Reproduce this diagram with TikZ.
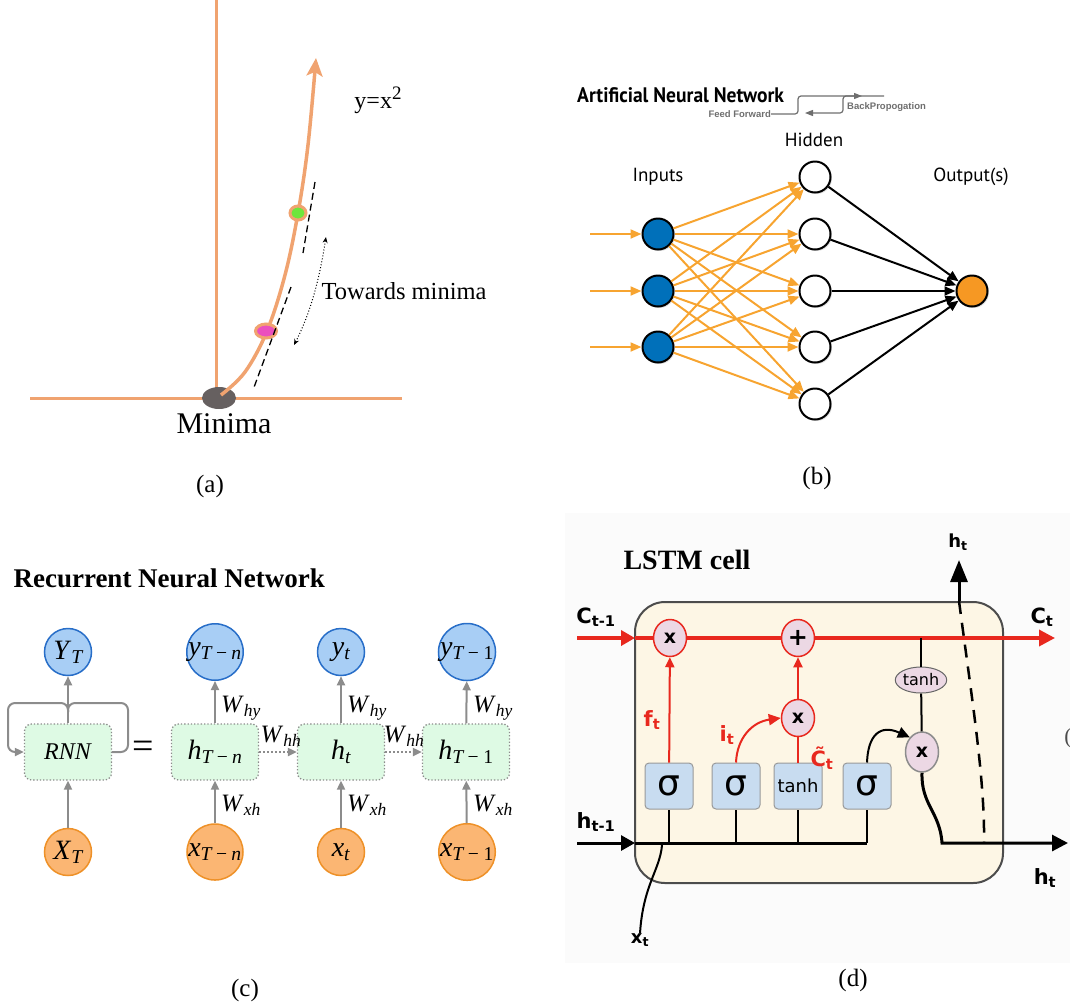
\documentclass[tikz,border=0pt]{standalone}
\usepackage{fontspec}
\setmainfont{Liberation Serif}
\newfontfamily\ptsans{PT Sans}
\newfontfamily\arial{Liberation Sans}
\newfontfamily\dejavu{DejaVu Sans}
\usetikzlibrary{arrows.meta,positioning,shapes.geometric,shadows}
\newcommand{\fsz}[1]{\fontsize{#1}{#1}\selectfont}
\newcommand{\isub}[2]{\textit{#1}\textsubscript{\itshape #2}}

\definecolor{axisorange}{RGB}{240,163,112}
\definecolor{minimagray}{RGB}{102,96,96}
\definecolor{dotgreen}{RGB}{110,230,60}
\definecolor{dotpink}{RGB}{235,80,190}
\definecolor{annblue}{RGB}{0,112,186}
\definecolor{annorange}{RGB}{246,152,35}
\definecolor{edgeorange}{RGB}{247,164,48}
\definecolor{fbgray}{RGB}{110,110,110}
\definecolor{yblue}{RGB}{168,206,245}
\definecolor{yborder}{RGB}{40,110,200}
\definecolor{xorange}{RGB}{251,182,115}
\definecolor{xborder}{RGB}{238,145,40}
\definecolor{boxgreen}{RGB}{222,250,228}
\definecolor{arrowgray}{RGB}{140,140,140}
\definecolor{cellred}{RGB}{232,40,30}
\definecolor{cellcream}{RGB}{253,246,229}
\definecolor{opfill}{RGB}{236,216,228}
\definecolor{gatefill}{RGB}{200,220,240}
\definecolor{panelbg}{RGB}{251,251,251}

\tikzset{
  axis/.style={draw=axisorange, line width=3},
  neuron/.style={circle, draw=black, line width=2, minimum size=31, inner sep=0,
    drop shadow={shadow xshift=1.5pt, shadow yshift=-1.5pt, opacity=0.25}},
  ffarrow/.style={draw=edgeorange, line width=2, -{Triangle[length=11pt,width=9pt]}},
  outarrow/.style={draw=black, line width=2, -{Triangle[length=11pt,width=9pt]}},
  fbarrow/.style={draw=fbgray, line width=1.2, rounded corners=3, -{Triangle[length=8pt,width=6pt]}},
  ycirc/.style={circle, fill=yblue, draw=yborder, line width=1.5, minimum size=47, inner sep=0, font=\fsz{28}},
  xcirc/.style={circle, fill=xorange, draw=xborder, line width=1.5, minimum size=47, inner sep=0, font=\fsz{28}},
  hbox/.style={rectangle, rounded corners=7, fill=boxgreen, draw=arrowgray, dotted, line width=1.3,
    minimum width=87, minimum height=56, font=\fsz{28}},
  grayarrow/.style={draw=arrowgray, line width=2, -{Triangle[length=9pt,width=8pt]}},
  wlbl/.style={font=\fsz{25}, inner sep=1},
  redline/.style={draw=cellred, line width=3.5},
  redthin/.style={draw=cellred, line width=2},
  blackline/.style={draw=black, line width=3},
  blackthin/.style={draw=black, line width=2},
  opnode/.style={ellipse, fill=opfill, draw=cellred, line width=1.5, minimum width=33,
    minimum height=37, inner sep=0, font=\dejavu\bfseries\fsz{19}},
  gate/.style={rectangle, rounded corners=4, fill=gatefill, draw=black!40, line width=1,
    minimum width=48, minimum height=46, inner sep=0},
  lstmlbl/.style={font=\dejavu\bfseries\fsz{21}, inner sep=0}
}

\begin{document}
\begin{tikzpicture}[x=1pt, y=-1pt]
\useasboundingbox (0,0) rectangle (1070,1005);

% (a) gradient descent
\draw[axis] (216,0) -- (216,398);
\draw[axis] (30,398) -- (402,398);
\node[ellipse, fill=minimagray, minimum width=34, minimum height=22, inner sep=0] (minpt) at (219,398) {};
\draw[axis, line width=3.5, -{Stealth[length=18pt,width=16pt,inset=4pt]}]
  plot[smooth, tension=0.6] coordinates {(221,395) (245,372) (267,331) (285,275) (298,213) (308,145) (316,58)};
\node[ellipse, draw=axisorange, line width=3, fill=dotgreen, minimum width=16, minimum height=14, inner sep=0] (gdot) at (298,213) {};
\node[ellipse, draw=axisorange, line width=3, fill=dotpink, minimum width=21, minimum height=14, inner sep=0] (pdot) at (266,331) {};
\draw[line width=1.3, dash pattern=on 7pt off 4pt] (315,182) -- (303,253);
\draw[line width=1.3, dash pattern=on 7pt off 4pt] (291,287) -- (253,390);
\coordinate (twtop) at (326,237);
\coordinate (twbot) at (294,345);
\draw[line width=1, dotted, {Stealth[length=6pt,width=5pt]}-{Stealth[length=6pt,width=5pt]}]
  (twtop) .. controls (320,275) and (312,310) .. (twbot);
\node[font=\fsz{30}] (minlbl) at (224,424) {Minima};
\node[font=\fsz{24}] (parab) at (378,100) {y=x\raisebox{9pt}{\fsz{19}2}};
\node[font=\fsz{24.5}, anchor=west] (twlbl) at (318,291) {Towards minima};
\node[font=\fsz{25}] (capa) at (210,486) {(a)};

% (b) artificial neural network
\node[font=\ptsans\bfseries\fsz{21}, anchor=west, inner sep=0] (anntitle) at (577,95) {\scalebox{0.93}[1]{Artificial Neural Network}};
\node[font=\arial\bfseries\fsz{9.5}, text=fbgray, anchor=east, inner sep=0] (fflbl) at (771,114) {Feed Forward};
\node[font=\arial\bfseries\fsz{9.5}, text=fbgray, anchor=west, inner sep=0] (bplbl) at (847,107) {BackPropogation};
\draw[fbarrow] (fflbl.east) -- (798,114) -- (798,96) -- (862,96);
\draw[fbarrow] (884,96) -- (843,96) -- (843,113) -- (805,113);
\node[font=\ptsans\fsz{19}] (inlbl) at (658,177) {Inputs};
\node[font=\ptsans\fsz{19}] (hidlbl) at (814,140) {Hidden};
\node[font=\ptsans\fsz{19}] (outlbl) at (971,177) {Output(s)};
\foreach \i/\y in {1/234,2/291,3/347} {
  \node[neuron, fill=annblue] (in\i) at (658,\y) {};
  \coordinate (src\i) at (590,\y);
}
\foreach \j/\y in {1/177,2/234,3/291,4/347,5/404}
  \node[neuron, fill=white] (hid\j) at (815,\y) {};
\node[neuron, fill=annorange] (out) at (972,291) {};
\foreach \i in {1,2,3} {
  \draw[ffarrow] (src\i) -- (in\i);
  \foreach \j in {1,...,5}
    \draw[ffarrow] (in\i) -- (hid\j);
}
\foreach \j in {1,...,5}
  \draw[outarrow] (hid\j) -- (out);
\node[font=\fsz{25}] (capb) at (817,478) {(b)};

% (c) recurrent neural network
\node[font=\bfseries\fsz{27}, anchor=west] (rnntitle) at (10,578) {Recurrent Neural Network};
\node[ycirc] (Y0) at (68,652) {\isub{Y}{T}};
\node[ycirc] (y1) at (215,652) {\isub{y}{T\,−\,n}};
\node[ycirc] (y2) at (341,652) {\isub{y}{t}};
\node[ycirc] (y3) at (467,652) {\isub{y}{T\,−\,}\textsubscript{1}};
\node[hbox, font=\fsz{24}] (rnn) at (68,752) {\textit{RNN}};
\node[hbox] (h1) at (215,752) {\isub{h}{T\,−\,n}};
\node[hbox] (h2) at (341,752) {\isub{h}{t}};
\node[hbox] (h3) at (466,752) {\isub{h}{T\,−\,}\textsubscript{1}};
\node[xcirc] (X0) at (68,852) {\isub{X}{T}};
\node[xcirc] (x1) at (215,852) {\isub{x}{T\,−\,n}};
\node[xcirc] (x2) at (341,852) {\isub{x}{t}};
\node[xcirc] (x3) at (467,852) {\isub{x}{T\,−\,}\textsubscript{1}};
\draw[grayarrow] (X0) -- (rnn);
\draw[grayarrow] (rnn) -- (Y0);
\foreach \k in {1,2,3} {
  \draw[grayarrow] (x\k) -- (h\k);
  \draw[grayarrow] (h\k) -- (y\k);
}
\draw[grayarrow, dotted] (h1) -- (h2);
\draw[grayarrow, dotted] (h2) -- (h3);
\draw[draw=arrowgray, line width=2, rounded corners=7] (rnn.east) -- (128,752) -- (128,703) -- (68,703) -- (68,712);
\draw[grayarrow, rounded corners=7] (68,712) -- (68,703) -- (8,703) -- (8,752) -- (rnn.west);
\node[font=\fsz{38}] (eqsign) at (143,750) {=};
\foreach \k/\x in {1/215,2/341,3/467} {
  \node[wlbl, anchor=west] (why\k) at (\x+5,708) {\isub{W}{hy}};
  \node[wlbl, anchor=west] (wxh\k) at (\x+5,805) {\isub{W}{xh}};
}
\node[wlbl] (whh1) at (281,736) {\isub{W}{hh}};
\node[wlbl] (whh2) at (404,736) {\isub{W}{hh}};
\node[font=\fsz{25}] (capc) at (245,990) {(c)};

% (d) LSTM cell
\fill[panelbg] (565,513) rectangle (1070,963);
\node[font=\bfseries\fsz{28}, anchor=west] (lstmtitle) at (620,560) {LSTM cell};
\node[rectangle, rounded corners=30, fill=cellcream, draw=black!70, line width=2,
  minimum width=368, minimum height=281] (cell) at (819,742.5) {};
\coordinate (cin) at (577,638);
\coordinate (centry) at (635,638);
\coordinate (cout) at (1055,638);
\coordinate (hin) at (577,843);
\coordinate (hentry) at (635,843);
\coordinate (hend) at (867,843);
\coordinate (hturn) at (942,843);
\coordinate (hout) at (1068,843);
\coordinate (htop) at (959,560);
\node[opnode] (fmul) at (670,638) {x};
\node[opnode, font=\dejavu\bfseries\fsz{24}] (addop) at (798,638) {+};
\node[opnode] (imul) at (798,718) {x};
\node[opnode, draw=black!45, minimum height=40] (omul) at (922,752) {x};
\node[ellipse, fill=opfill, draw=black!60, line width=1, minimum width=50, minimum height=26,
  inner sep=0, font=\dejavu\fsz{16}] (tanhc) at (921,680) {tanh};
\node[gate, font=\dejavu\fsz{36}] (sig1) at (669,786) {σ};
\node[gate, font=\dejavu\fsz{36}] (sig2) at (736,786) {σ};
\node[gate, font=\dejavu\fsz{18}] (tanhg) at (798,786) {tanh};
\node[gate, font=\dejavu\fsz{36}] (sig3) at (867,786) {σ};
% cell state
\draw[redline, -{Triangle[length=14pt,width=15pt]}] (cin) -- (centry);
\draw[redline] (centry) -- (fmul);
\draw[redline] (fmul) -- (addop);
\draw[redline, -{Triangle[length=16pt,width=16pt]}] (addop) -- (cout);
% gates
\draw[redthin, -{Triangle[length=10pt,width=9pt]}] (sig1) -- (fmul);
\draw[redthin, -{Triangle[length=12pt,width=11pt]}] (sig2.north) .. controls (737,738) and (752,722) .. (imul.west);
\draw[redthin] (tanhg) -- (imul);
\draw[redthin, -{Triangle[length=10pt,width=9pt]}] (imul) -- (addop);
\draw[blackthin, -{Triangle[length=12pt,width=11pt]}] (sig3.north) .. controls (868,735) and (880,724) .. (omul.north west);
\draw[blackthin] (tanhc |- cin) -- (tanhc);
\draw[blackthin] (tanhc) -- (omul);
% hidden state
\draw[blackline, -{Triangle[length=14pt,width=15pt]}] (hin) -- (hentry);
\draw[blackline] (hentry) -- (hend);
\foreach \g in {sig1,sig2,tanhg,sig3}
  \draw[blackthin] (\g |- hend) -- (\g);
\draw[blackline, -{Triangle[length=16pt,width=16pt]}] (omul.south) .. controls (921,805) and (940,812) .. (hturn) -- (hout);
\draw[blackline, -{Triangle[length=22pt,width=17pt]}] (htop |- cell.north) -- (htop);
\draw[line width=2.5, dash pattern=on 13pt off 9pt] (htop |- cell.north) .. controls (972,700) and (985,780) .. (984,843);
\node[lstmlbl, font=\dejavu\bfseries\fsz{18}] (xtlbl) at (640,940) {x\textsubscript{t}};
\draw[blackthin] (662,845) .. controls (660,870) and (643,885) .. (xtlbl.north);
% labels
\node[lstmlbl] (cprev) at (596,617) {C\textsubscript{t-1}};
\node[lstmlbl] (cnext) at (1042,617) {C\textsubscript{t}};
\node[lstmlbl, font=\dejavu\bfseries\fsz{18}] (htlbl) at (958,542) {h\textsubscript{t}};
\node[lstmlbl] (hprev) at (596,822) {h\textsubscript{t-1}};
\node[lstmlbl] (hnext) at (1045,878) {h\textsubscript{t}};
\node[lstmlbl, text=cellred] (ftlbl) at (652,720) {f\textsubscript{t}};
\node[lstmlbl, text=cellred] (itlbl) at (727,735) {i\textsubscript{t}};
\node[lstmlbl, text=cellred] (ctlbl) at (822,758) {\~{C}\textsubscript{t}};
\node[font=\fsz{22}, text=black!70] (stray) at (1068,738) {(};
\node[font=\fsz{25}] (capd) at (853,980) {(d)};
\end{tikzpicture}
\end{document}
